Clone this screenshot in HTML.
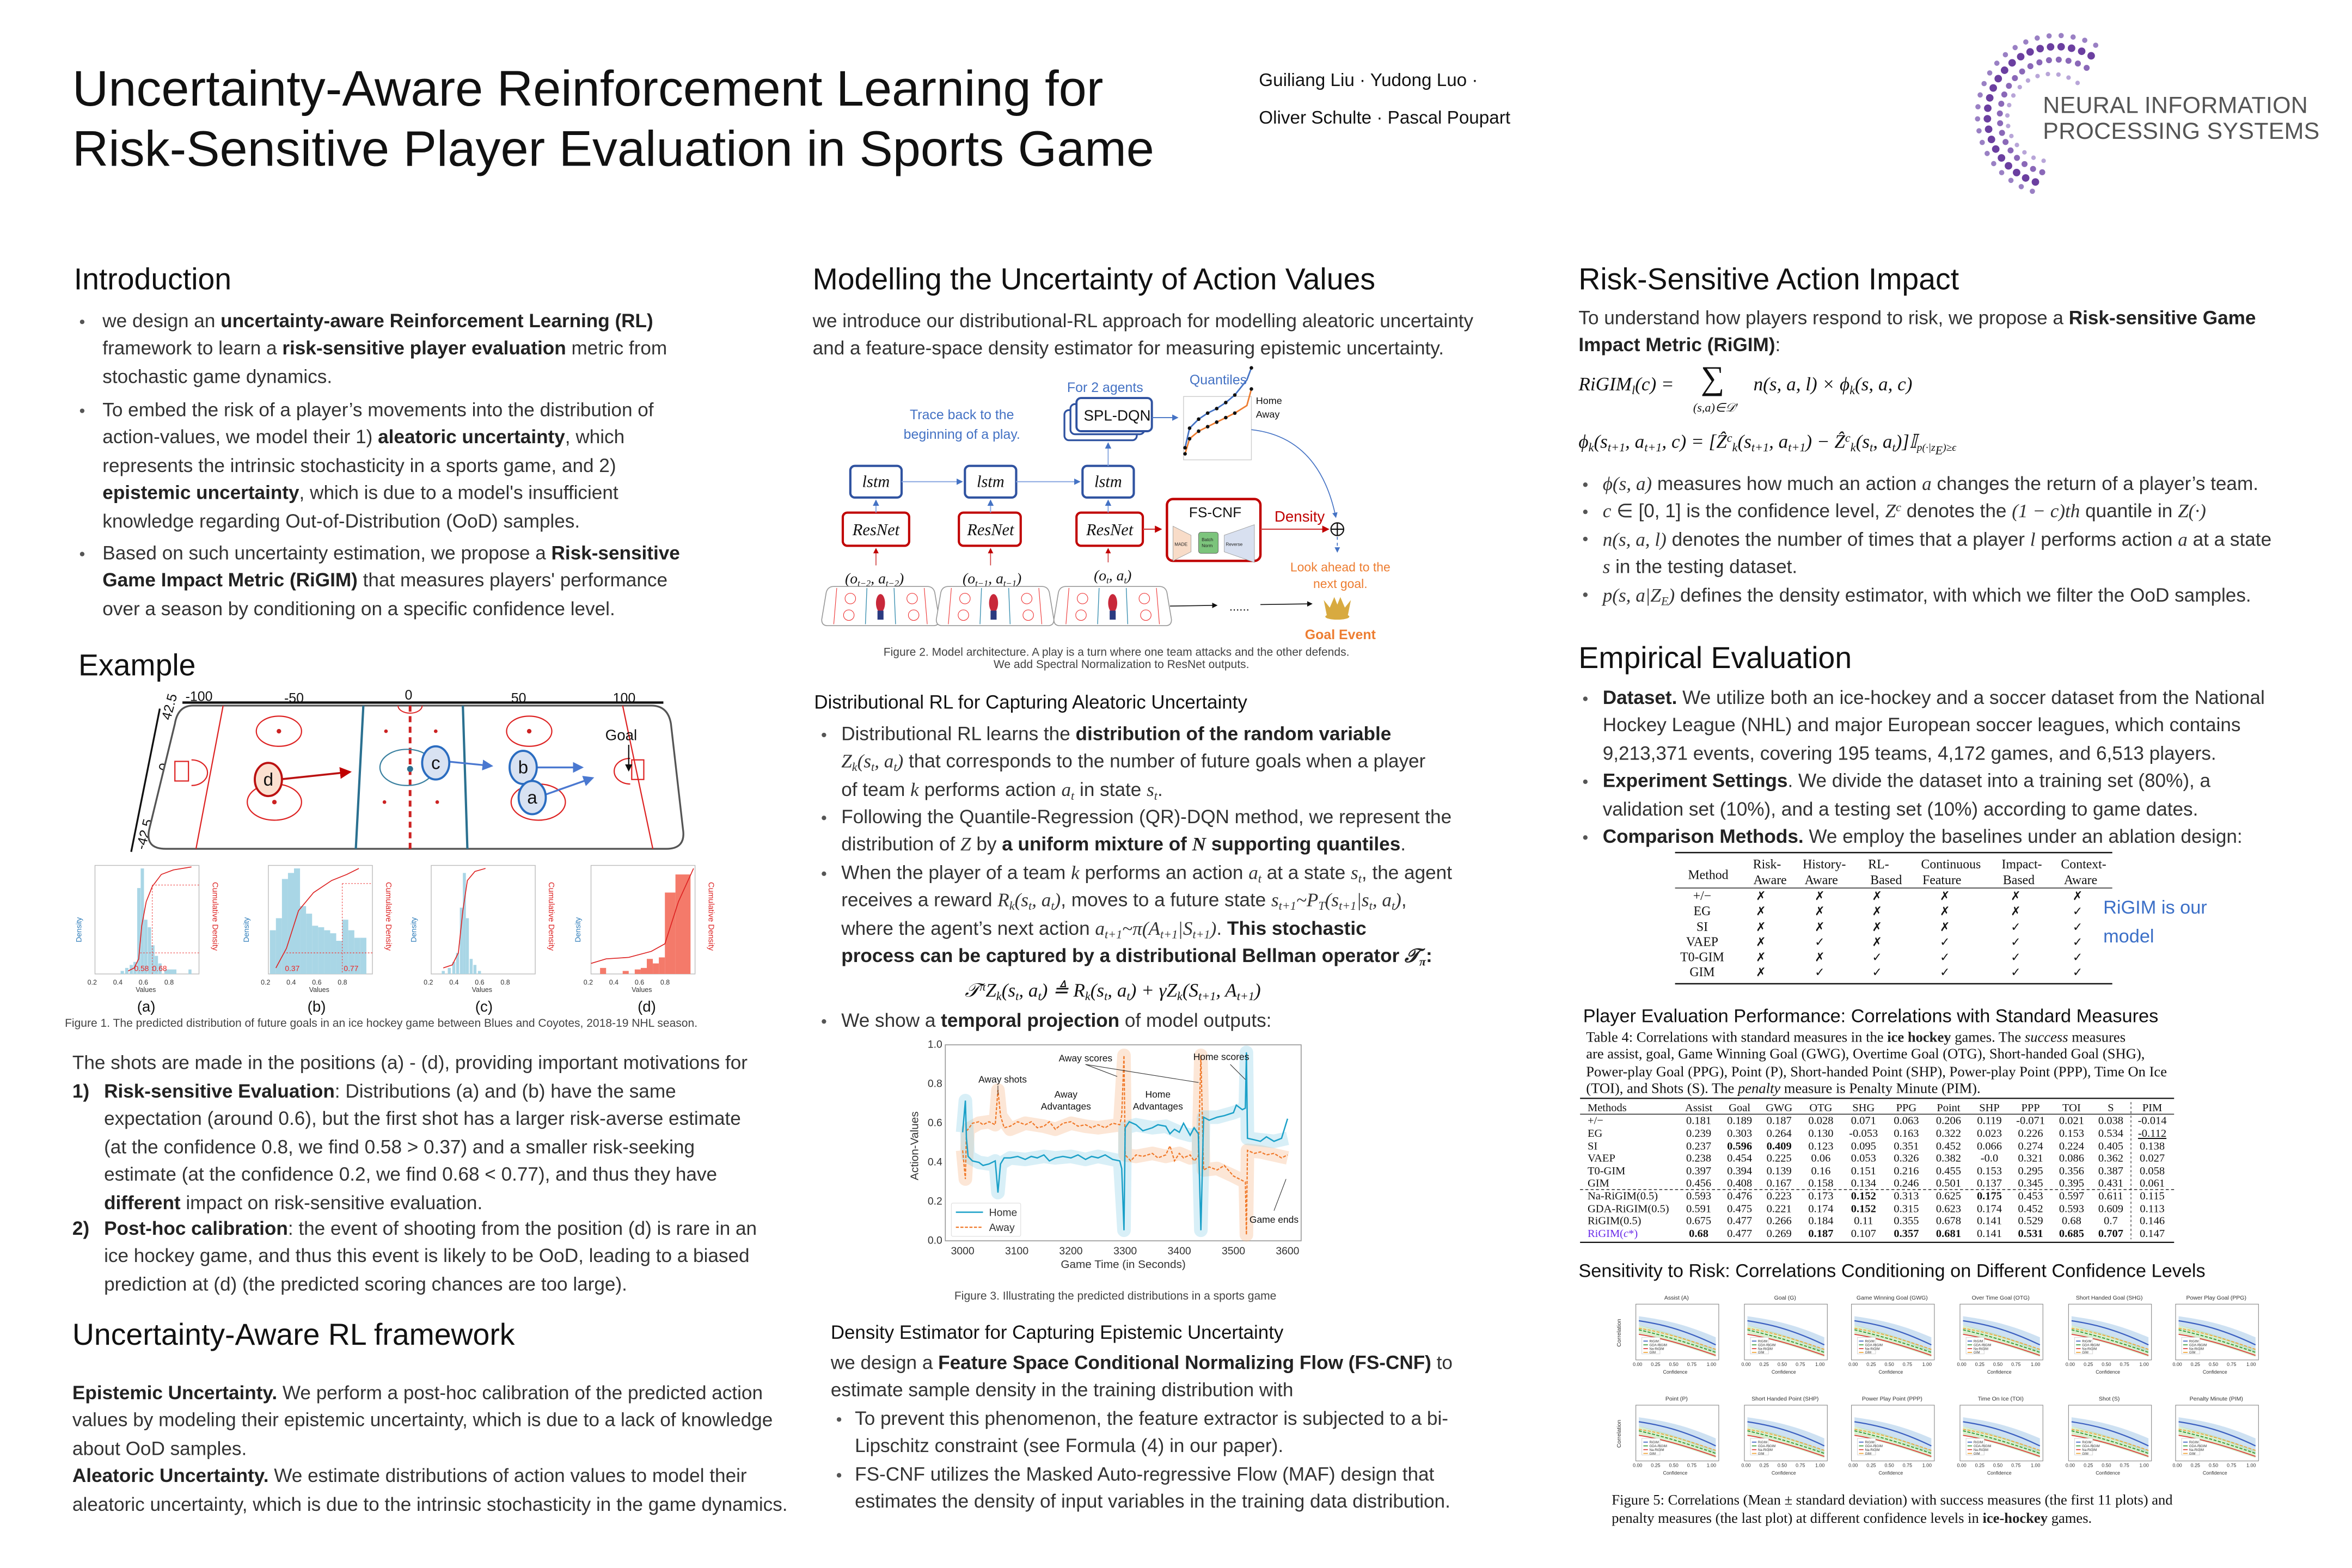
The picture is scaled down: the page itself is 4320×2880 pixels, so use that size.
<!DOCTYPE html>
<html><head><meta charset="utf-8">
<style>
html,body{margin:0;padding:0;background:#fff;}
body{width:4320px;height:2880px;overflow:hidden;position:relative;}
#p{position:absolute;left:0;top:0;width:1560px;height:1040px;transform:scale(2.76923);transform-origin:0 0;font-family:"Liberation Sans",sans-serif;color:#333;}
.t{position:absolute;white-space:nowrap;font-size:12.7px;line-height:18.45px;}
.h{position:absolute;white-space:nowrap;font-size:20px;line-height:24px;color:#111;}
.s{position:absolute;white-space:nowrap;font-size:12.6px;line-height:16px;color:#111;}
b{color:#222;}
sub,sup{font-size:8px;line-height:0;}
sub{vertical-align:-0.3em;}
sup{vertical-align:0.5em;}
.m{font-family:"Liberation Serif",serif;font-style:italic;}
.d{position:absolute;width:3px;height:3px;border-radius:50%;background:#555;}
svg{position:absolute;left:0;top:0;}
.cap{position:absolute;white-space:nowrap;font-size:7.6px;color:#444;}
</style></head><body><div id="p">

<div style="position:absolute;left:48px;top:40px;font-size:33.2px;line-height:40px;color:#111;white-space:nowrap;">Uncertainty-Aware Reinforcement Learning for<br>Risk-Sensitive Player Evaluation in Sports Game</div>
<div style="position:absolute;left:835px;top:41px;font-size:12px;line-height:24.5px;color:#111;white-space:nowrap;">Guiliang Liu · Yudong Luo ·<br>Oliver Schulte · Pascal Poupart</div>
<div style="position:absolute;left:1355px;top:62px;font-size:15.5px;line-height:17px;color:#555;white-space:nowrap;letter-spacing:0.1px;">NEURAL INFORMATION<br>PROCESSING SYSTEMS</div>

<div class="h" style="left:49px;top:174px;">Introduction</div>
<div class="d" style="left:53px;top:212px"></div>
<div class="t" style="left:68px;top:204px;">we design an <b>uncertainty-aware Reinforcement Learning (RL)</b><br>framework to learn a <b>risk-sensitive player evaluation</b> metric from<br>stochastic game dynamics.</div>
<div class="d" style="left:53px;top:271px"></div>
<div class="t" style="left:68px;top:263px;">To embed the risk of a player’s movements into the distribution of<br>action-values, we model their 1) <b>aleatoric uncertainty</b>, which<br>represents the intrinsic stochasticity in a sports game, and 2)<br><b>epistemic uncertainty</b>, which is due to a model's insufficient<br>knowledge regarding Out-of-Distribution (OoD) samples.</div>
<div class="d" style="left:53px;top:366px"></div>
<div class="t" style="left:68px;top:358px;">Based on such uncertainty estimation, we propose a <b>Risk-sensitive</b><br><b>Game Impact Metric (RiGIM)</b> that measures players' performance<br>over a season by conditioning on a specific confidence level.</div>

<div class="h" style="left:52px;top:430px;">Example</div>

<div class="cap" style="left:43px;top:674px;">Figure 1. The predicted distribution of future goals in an ice hockey game between Blues and Coyotes, 2018-19 NHL season.</div>

<div class="t" style="left:48px;top:696px;">The shots are made in the positions (a) - (d), providing important motivations for</div>
<div class="t" style="left:48px;top:715px;"><b>1)</b></div>
<div class="t" style="left:69px;top:715px;"><b>Risk-sensitive Evaluation</b>: Distributions (a) and (b) have the same<br>expectation (around 0.6), but the first shot has a larger risk-averse estimate<br>(at the confidence 0.8, we find 0.58 &gt; 0.37) and a smaller risk-seeking<br>estimate (at the confidence 0.2, we find 0.68 &lt; 0.77), and thus they have<br><b>different</b> impact on risk-sensitive evaluation.</div>
<div class="t" style="left:48px;top:806px;"><b>2)</b></div>
<div class="t" style="left:69px;top:806px;"><b>Post-hoc calibration</b>: the event of shooting from the position (d) is rare in an<br>ice hockey game, and thus this event is likely to be OoD, leading to a biased<br>prediction at (d) (the predicted scoring chances are too large).</div>

<div class="h" style="left:48px;top:874px;">Uncertainty-Aware RL framework</div>
<div class="t" style="left:48px;top:915px;"><b>Epistemic Uncertainty.</b> We perform a post-hoc calibration of the predicted action<br>values by modeling their epistemic uncertainty, which is due to a lack of knowledge<br>about OoD samples.<br><b>Aleatoric Uncertainty.</b> We estimate distributions of action values to model their<br>aleatoric uncertainty, which is due to the intrinsic stochasticity in the game dynamics.</div>

<div class="h" style="left:539px;top:174px;">Modelling the Uncertainty of Action Values</div>
<div class="t" style="left:539px;top:204px;">we introduce our distributional-RL approach for modelling aleatoric uncertainty<br>and a feature-space density estimator for measuring epistemic uncertainty.</div>
<div class="cap" style="left:586px;top:428px;">Figure 2. Model architecture. A play is a turn where one team attacks and the other defends.</div>
<div class="cap" style="left:659px;top:436px;">We add Spectral Normalization to ResNet outputs.</div>

<div class="s" style="left:540px;top:458px;">Distributional RL for Capturing Aleatoric Uncertainty</div>
<div class="d" style="left:545px;top:486px"></div>
<div class="t" style="left:558px;top:478px;">Distributional RL learns the <b>distribution of the random variable</b><br><span class="m">Z<sub>k</sub>(s<sub>t</sub>, a<sub>t</sub>)</span> that corresponds to the  number of future goals when a player<br>of team <span class="m">k</span> performs action <span class="m">a<sub>t</sub></span> in state <span class="m">s<sub>t</sub></span>.</div>
<div class="d" style="left:545px;top:541px"></div>
<div class="t" style="left:558px;top:533px;">Following the Quantile-Regression (QR)-DQN method, we represent the<br>distribution of <span class="m">Z</span> by <b>a uniform mixture of <span class="m">N</span> supporting quantiles</b>.</div>
<div class="d" style="left:545px;top:578px"></div>
<div class="t" style="left:558px;top:570px;">When the player of a team <span class="m">k</span> performs an action <span class="m">a<sub>t</sub></span> at a state <span class="m">s<sub>t</sub></span>, the agent<br>receives a reward <span class="m">R<sub>k</sub>(s<sub>t</sub>, a<sub>t</sub>)</span>, moves to a future state <span class="m">s<sub>t+1</sub>~P<sub>T</sub>(s<sub>t+1</sub>|s<sub>t</sub>, a<sub>t</sub>)</span>,<br>where the agent’s next action <span class="m">a<sub>t+1</sub>~π(A<sub>t+1</sub>|S<sub>t+1</sub>)</span>. <b>This stochastic</b><br><b>process can be captured by a distributional Bellman operator <span class="m">𝒯<sub>π</sub></span>:</b></div>
<div class="t m" style="left:640px;top:648px;color:#111;">𝒯<sup>π</sup>Z<sub>k</sub>(s<sub>t</sub>, a<sub>t</sub>) ≜ R<sub>k</sub>(s<sub>t</sub>, a<sub>t</sub>) + γZ<sub>k</sub>(S<sub>t+1</sub>, A<sub>t+1</sub>)</div>
<div class="d" style="left:545px;top:676px"></div>
<div class="t" style="left:558px;top:668px;">We show a <b>temporal projection</b> of model outputs:</div>
<div class="cap" style="left:633px;top:855px;">Figure 3. Illustrating the predicted distributions in a sports game</div>

<div class="s" style="left:551px;top:876px;">Density Estimator for Capturing Epistemic Uncertainty</div>
<div class="t" style="left:551px;top:895px;">we design a <b>Feature Space Conditional Normalizing Flow (FS-CNF)</b> to<br>estimate sample density in the training distribution with</div>
<div class="d" style="left:555px;top:940px"></div>
<div class="t" style="left:567px;top:932px;">To prevent this phenomenon, the feature extractor is subjected to a bi-<br>Lipschitz constraint (see Formula (4) in our paper).</div>
<div class="d" style="left:555px;top:977px"></div>
<div class="t" style="left:567px;top:969px;">FS-CNF utilizes the Masked Auto-regressive Flow (MAF) design that<br>estimates the density of input variables in the training data distribution.</div>

<div class="h" style="left:1047px;top:174px;">Risk-Sensitive Action Impact</div>
<div class="t" style="left:1047px;top:202px;">To understand how players respond to risk, we propose a <b>Risk-sensitive Game</b><br><b>Impact Metric (RiGIM)</b>:</div>
<div class="t m" style="left:1047px;top:246px;color:#111;">RiGIM<sub>l</sub>(c) = </div>
<div style="position:absolute;left:1128px;top:238px;font-size:22px;font-family:'Liberation Serif',serif;color:#111;">∑</div>
<div class="m" style="position:absolute;left:1123px;top:266px;font-size:8px;white-space:nowrap;color:#111;">(s,a)∈𝒟′</div>
<div class="t m" style="left:1163px;top:246px;color:#111;">n(s, a, l) × ϕ<sub>k</sub>(s, a, c)</div>
<div class="t m" style="left:1047px;top:284px;color:#111;">ϕ<sub>k</sub>(s<sub>t+1</sub>, a<sub>t+1</sub>, c) = [Ẑ<sup>c</sup><sub>k</sub>(s<sub>t+1</sub>, a<sub>t+1</sub>) − Ẑ<sup>c</sup><sub>k</sub>(s<sub>t</sub>, a<sub>t</sub>)]𝕀<sub style="font-size:7px">p(·|z<sub>E</sub>)≥ϵ</sub></div>
<div class="d" style="left:1050px;top:320px"></div>
<div class="d" style="left:1050px;top:338px"></div>
<div class="d" style="left:1050px;top:356px"></div>
<div class="d" style="left:1050px;top:393px"></div>
<div class="t" style="left:1063px;top:312px;"><span class="m">ϕ(s, a)</span> measures how much an action <span class="m">a</span> changes the  return of a player’s team.<br><span class="m">c</span> ∈ [0, 1] is the confidence level, <span class="m">Z<sup>c</sup></span> denotes the <span class="m">(1 − c)th</span> quantile in <span class="m">Z(·)</span><br><span class="m">n(s, a, l)</span> denotes the number of times that a player <span class="m">l</span> performs action <span class="m">a</span> at a state<br><span class="m">s</span> in the testing dataset.<br><span class="m">p(s, a|Z<sub>E</sub>)</span> defines the density estimator, with which we filter the OoD samples.</div>

<div class="h" style="left:1047px;top:425px;">Empirical Evaluation</div>
<div class="d" style="left:1050px;top:462px"></div>
<div class="d" style="left:1050px;top:517px"></div>
<div class="d" style="left:1050px;top:554px"></div>
<div class="t" style="left:1063px;top:454px;"><b>Dataset.</b> We utilize both an ice-hockey and a soccer dataset from the National<br>Hockey League (NHL) and major European soccer leagues, which contains<br>9,213,371 events, covering 195 teams, 4,172 games, and 6,513 players.<br><b>Experiment Settings</b>. We divide the dataset into a training set (80%), a<br>validation set (10%), and a testing set (10%) according to game dates.<br><b>Comparison Methods.</b> We employ the baselines under an ablation design:</div>

<div style="position:absolute;left:1395px;top:593px;font-size:12.4px;line-height:18.6px;color:#3b6fc7;white-space:nowrap;">RiGIM is our<br>model</div>

<div class="s" style="left:1050px;top:666px;font-size:12.4px;">Player Evaluation Performance: Correlations with Standard Measures</div>
<div style="position:absolute;left:1052px;top:683px;font-family:'Liberation Serif',serif;font-size:9.6px;line-height:11.3px;color:#111;white-space:nowrap;">Table 4:  Correlations with standard measures in the <b>ice hockey</b> games.  The <i>success</i> measures<br>are assist, goal, Game Winning Goal (GWG), Overtime Goal (OTG), Short-handed Goal (SHG),<br>Power-play Goal (PPG), Point (P), Short-handed Point (SHP), Power-play Point (PPP), Time On Ice<br>(TOI), and Shots (S). The <i>penalty</i> measure is Penalty Minute (PIM).</div>

<div class="s" style="left:1047px;top:835px;font-size:12.4px;">Sensitivity to Risk: Correlations Conditioning on Different Confidence Levels</div>
<div style="position:absolute;left:1069px;top:990px;font-family:'Liberation Serif',serif;font-size:9.6px;line-height:12px;color:#111;white-space:nowrap;">Figure 5: Correlations (Mean ± standard deviation) with success measures (the first 11 plots) and<br>penalty measures (the last plot) at different confidence levels in <b>ice-hockey</b> games.</div>

<svg width="1560" height="1040" viewBox="0 0 1560 1040" xmlns="http://www.w3.org/2000/svg" font-family="Liberation Sans, sans-serif">
<defs>
<marker id="ab" markerWidth="6" markerHeight="6" refX="5" refY="3" orient="auto"><path d="M0,0 L6,3 L0,6 z" fill="#4472c4"/></marker>
<marker id="ar" markerWidth="6" markerHeight="6" refX="5" refY="3" orient="auto"><path d="M0,0 L6,3 L0,6 z" fill="#c00000"/></marker>
<marker id="ak" markerWidth="6" markerHeight="6" refX="5" refY="3" orient="auto"><path d="M0,0 L6,3 L0,6 z" fill="#111"/></marker>
<marker id="ab2" markerWidth="6" markerHeight="6" refX="5" refY="3" orient="auto"><path d="M0,0 L6,3 L0,6 z" fill="#4a78d0"/></marker>
<marker id="ad" markerWidth="6" markerHeight="6" refX="5" refY="3" orient="auto"><path d="M0,0 L6,3 L0,6 z" fill="#c00000"/></marker>
<g id="rinkmini">
<path d="M4,0 H66 Q70,0 71,4 L74,22 Q74,26 70,26 H0 Q-4,26 -4,22 L-1,4 Q0,0 4,0Z" fill="#fff" stroke="#999" stroke-width="0.6"/>
<line x1="6" y1="1" x2="4" y2="25" stroke="#e33" stroke-width="0.4"/><line x1="64" y1="1" x2="66" y2="25" stroke="#e33" stroke-width="0.4"/>
<line x1="26" y1="1" x2="25" y2="25" stroke="#3a8fb0" stroke-width="0.5"/><line x1="44" y1="1" x2="45" y2="25" stroke="#3a8fb0" stroke-width="0.5"/>
<circle cx="15" cy="8" r="3.5" fill="none" stroke="#e33" stroke-width="0.4"/><circle cx="14" cy="19" r="3.5" fill="none" stroke="#e33" stroke-width="0.4"/>
<circle cx="56" cy="8" r="3.5" fill="none" stroke="#e33" stroke-width="0.4"/><circle cx="57" cy="19" r="3.5" fill="none" stroke="#e33" stroke-width="0.4"/>
</g>
<g id="fp">
<rect x="0" y="0" width="55" height="37" fill="#fff" stroke="#888" stroke-width="0.4"/>
<path d="M2,8 C15,10 30,12 53,22 L53,32 C30,22 15,18 2,14Z" fill="#9ec3e6" opacity="0.5"/>
<path d="M2,11 C15,13 30,16 53,27" fill="none" stroke="#3b5fc0" stroke-width="0.8"/>
<path d="M2,14 C15,17 30,21 53,30 L53,35 C30,27 15,23 2,20Z" fill="#b6e0a0" opacity="0.5"/>
<path d="M2,17 C15,20 30,24 53,32" fill="none" stroke="#3a9a3a" stroke-width="0.7" stroke-dasharray="2 1"/>
<path d="M2,20 C15,22 30,26 53,34" fill="none" stroke="#d33" stroke-width="0.6"/>
<path d="M2,16 C15,18 30,22 53,30" fill="none" stroke="#f0a030" stroke-width="0.6" stroke-dasharray="2 1"/>
<rect x="4" y="22" width="12" height="11" fill="#fff" stroke="#ccc" stroke-width="0.3"/>
<line x1="5" y1="24.5" x2="8" y2="24.5" stroke="#3b5fc0" stroke-width="0.6"/><line x1="5" y1="27" x2="8" y2="27" stroke="#3a9a3a" stroke-width="0.6"/><line x1="5" y1="29.5" x2="8" y2="29.5" stroke="#d33" stroke-width="0.6"/><line x1="5" y1="32" x2="8" y2="32" stroke="#f0a030" stroke-width="0.6"/>
<g font-size="2.2" fill="#333"><text x="9" y="25.3">RiGIM</text><text x="9" y="27.8">GDA-RiGIM</text><text x="9" y="30.3">Na-RiGIM</text><text x="9" y="32.8">GIM</text></g>
<g font-size="3.2" fill="#333"><text x="-2" y="41">0.00</text><text x="10" y="41">0.25</text><text x="22" y="41">0.50</text><text x="34" y="41">0.75</text><text x="47" y="41">1.00</text><text x="18" y="46">Confidence</text></g>
</g>
</defs>

<g fill="none" stroke-linecap="round">
<path d="M1384,45 A38,38 0 1 0 1358,115" stroke="#8a68b8" stroke-width="4" stroke-dasharray="0 6.5"/>
<path d="M1387,37 A46,46 0 1 0 1355,122" stroke="#6b3fa0" stroke-width="5" stroke-dasharray="0 7"/>
<path d="M1390,30 A53,53 0 1 0 1352,128" stroke="#9a80c4" stroke-width="3.5" stroke-dasharray="0 8"/>
<path d="M1378,55 A29,29 0 1 0 1362,107" stroke="#b8a5d8" stroke-width="3" stroke-dasharray="0 7"/>
</g>

<g>
<line x1="121" y1="466" x2="440" y2="466" stroke="#111" stroke-width="1.6"/>
<line x1="106" y1="470" x2="87" y2="565" stroke="#111" stroke-width="1.2"/>
<g font-size="9" fill="#111" text-anchor="middle"><text x="132" y="465">-100</text><text x="195" y="466">-50</text><text x="271" y="464">0</text><text x="344" y="466">50</text><text x="414" y="466">100</text></g>
<text x="113" y="478" font-size="9" transform="rotate(-75 113 478)" fill="#111">42.5</text>
<text x="111" y="512" font-size="9" transform="rotate(-75 111 512)" fill="#111">0</text>
<text x="96" y="564" font-size="9" transform="rotate(-75 96 564)" fill="#111">-42.5</text>
<path d="M128,468 H432 Q443,468 445,480 L453,550 Q455,563 442,563 H110 Q96,563 99,550 L116,480 Q118,468 128,468Z" fill="#fff" stroke="#555" stroke-width="1.2"/>
<line x1="148" y1="468" x2="130" y2="563" stroke="#d22" stroke-width="0.8"/>
<line x1="413" y1="468" x2="433" y2="563" stroke="#d22" stroke-width="0.8"/>
<line x1="241" y1="468" x2="236" y2="563" stroke="#2a7090" stroke-width="1.5"/>
<line x1="307" y1="468" x2="310" y2="563" stroke="#2a7090" stroke-width="1.5"/>
<line x1="272" y1="468" x2="272" y2="563" stroke="#c22" stroke-width="1.8" stroke-dasharray="4 3"/>
<path d="M264,468 A8,5 0 0 0 280,468" fill="none" stroke="#d22" stroke-width="0.7"/>
<g fill="none" stroke="#d22" stroke-width="0.8">
<ellipse cx="185" cy="485" rx="15" ry="10"/><ellipse cx="182" cy="532" rx="18" ry="12"/>
<ellipse cx="351" cy="485" rx="15" ry="10"/><ellipse cx="357" cy="532" rx="18" ry="12"/>
<path d="M127,504 A10,8 0 0 1 127,521"/><rect x="116" y="505" width="9" height="13"/>
<path d="M418,503 A10,8 0 0 0 418,520"/><rect x="419" y="504" width="8" height="13"/>
</g>
<g fill="#c22"><circle cx="185" cy="485" r="1.5"/><circle cx="182" cy="532" r="1.5"/><circle cx="351" cy="485" r="1.5"/><circle cx="357" cy="532" r="1.5"/><circle cx="256" cy="485" r="1.2"/><circle cx="289" cy="485" r="1.2"/><circle cx="255" cy="532" r="1.2"/><circle cx="290" cy="532" r="1.2"/></g>
<ellipse cx="270" cy="509" rx="18" ry="12" fill="none" stroke="#3a80a0" stroke-width="0.8"/><circle cx="272" cy="510" r="2" fill="#2a7090"/>
<line x1="185" y1="517" x2="232" y2="512" stroke="#b11" stroke-width="1.3" marker-end="url(#ad)"/>
<ellipse cx="178" cy="517" rx="9" ry="11" fill="#fbe0d0" stroke="#b11" stroke-width="1.4"/><text x="178" y="521" font-size="12" text-anchor="middle" fill="#111">d</text>
<line x1="296" y1="505" x2="326" y2="508" stroke="#4a78d0" stroke-width="1.2" marker-end="url(#ab2)"/>
<ellipse cx="289" cy="506" rx="9" ry="11" fill="#d8e2f2" stroke="#2a6cc0" stroke-width="1.4"/><text x="289" y="510" font-size="12" text-anchor="middle" fill="#111">c</text>
<line x1="354" y1="509" x2="386" y2="509" stroke="#4a78d0" stroke-width="1.2" marker-end="url(#ab2)"/>
<ellipse cx="347" cy="509" rx="9" ry="11" fill="#d8e2f2" stroke="#2a6cc0" stroke-width="1.4"/><text x="347" y="513" font-size="12" text-anchor="middle" fill="#111">b</text>
<line x1="359" y1="528" x2="393" y2="516" stroke="#4a78d0" stroke-width="1.2" marker-end="url(#ab2)"/>
<ellipse cx="353" cy="529" rx="9" ry="11" fill="#d8e2f2" stroke="#2a6cc0" stroke-width="1.4"/><text x="353" y="533" font-size="12" text-anchor="middle" fill="#111">a</text>
<text x="412" y="491" font-size="10" text-anchor="middle" fill="#111">Goal</text>
<line x1="417" y1="494" x2="417" y2="511" stroke="#111" stroke-width="0.8" marker-end="url(#ak)"/>
</g>

<g font-size="5" >
<g transform="translate(63,574)">
<rect x="0" y="0" width="69" height="72" fill="#fff" stroke="#bbb" stroke-width="0.5"/>
<g fill="#a9d6e6"><rect x="17" y="70" width="2.2" height="2"/><rect x="20" y="68" width="2.2" height="4"/><rect x="23" y="66" width="2.2" height="6"/><rect x="25.5" y="64" width="2.2" height="8"/><rect x="28" y="15" width="2.2" height="57"/><rect x="30.3" y="2" width="2.2" height="70"/><rect x="32.6" y="36" width="2.2" height="36"/><rect x="35" y="41" width="2.2" height="31"/><rect x="37.3" y="53" width="2.2" height="19"/><rect x="39.6" y="60" width="2.2" height="12"/><rect x="42" y="65" width="2.2" height="7"/><rect x="46" y="69" width="8" height="3"/><rect x="62" y="69" width="2" height="3"/></g>
<path d="M22,70 L26,68 L29,62 L31,40 L34,24 L38,14 L44,6 L52,3 L64,1" fill="none" stroke="#d22" stroke-width="0.6"/>
<line x1="30" y1="58" x2="69" y2="58" stroke="#e44" stroke-width="0.4" stroke-dasharray="1 1"/><line x1="38" y1="13" x2="69" y2="13" stroke="#e44" stroke-width="0.4" stroke-dasharray="1 1"/>
<line x1="38" y1="13" x2="38" y2="72" stroke="#e44" stroke-width="0.4" stroke-dasharray="1 1"/>
<text x="26" y="70" fill="#e22" font-size="5">0.58</text><text x="38" y="70" fill="#e22" font-size="5">0.68</text>
</g>
<g transform="translate(178,574)">
<rect x="0" y="0" width="69" height="72" fill="#fff" stroke="#bbb" stroke-width="0.5"/>
<g fill="#a9d6e6"><rect x="1" y="43" width="4" height="29"/><rect x="5" y="35" width="4" height="37"/><rect x="9" y="9" width="4" height="63"/><rect x="13" y="5" width="4" height="67"/><rect x="17" y="2" width="4" height="70"/><rect x="21" y="27" width="4" height="45"/><rect x="25" y="32" width="4" height="40"/><rect x="29" y="40" width="4" height="32"/><rect x="33" y="41" width="4" height="31"/><rect x="37" y="43" width="4" height="29"/><rect x="41" y="45" width="4" height="27"/><rect x="45" y="50" width="4" height="22"/><rect x="49" y="36" width="4" height="36"/><rect x="53" y="43" width="4" height="29"/><rect x="57" y="48" width="4" height="24"/><rect x="61" y="48" width="4" height="24"/></g>
<path d="M5,68 L12,55 L20,30 L30,18 L42,10 L52,6 L60,2" fill="none" stroke="#d22" stroke-width="0.6"/>
<line x1="10" y1="58" x2="69" y2="58" stroke="#e44" stroke-width="0.5" stroke-dasharray="1 1"/><line x1="49" y1="12" x2="69" y2="12" stroke="#e44" stroke-width="0.4" stroke-dasharray="1 1"/><line x1="49" y1="12" x2="49" y2="72" stroke="#e44" stroke-width="0.4" stroke-dasharray="1 1"/>
<text x="11" y="70" fill="#e22">0.37</text><text x="50" y="70" fill="#e22">0.77</text>
</g>
<g transform="translate(286,574)">
<rect x="0" y="0" width="69" height="72" fill="#fff" stroke="#bbb" stroke-width="0.5"/>
<g fill="#a9d6e6"><rect x="7" y="70" width="2" height="2"/><rect x="11" y="68" width="2" height="4"/><rect x="14" y="64" width="2" height="8"/><rect x="16.5" y="58" width="2" height="14"/><rect x="19" y="28" width="2" height="44"/><rect x="21" y="5" width="2" height="67"/><rect x="23" y="35" width="2" height="37"/><rect x="25.5" y="62" width="2" height="10"/><rect x="28" y="66" width="2" height="6"/><rect x="31" y="70" width="2" height="2"/></g>
<path d="M8,68 L14,66 L18,58 L21,30 L24,10 L29,4 L36,2" fill="none" stroke="#d22" stroke-width="0.6"/>
</g>
<g transform="translate(392,574)">
<rect x="0" y="0" width="69" height="72" fill="#fff" stroke="#bbb" stroke-width="0.5"/>
<g fill="#f47a6a"><rect x="6" y="68" width="4" height="4"/><rect x="21" y="70" width="4" height="2"/><rect x="29" y="69" width="4" height="3"/><rect x="33" y="68" width="4" height="4"/><rect x="37" y="62" width="4" height="10"/><rect x="41" y="65" width="4" height="7"/><rect x="45" y="61" width="4" height="11"/><rect x="49" y="18" width="7" height="54"/><rect x="56" y="6" width="10" height="66"/></g>
<path d="M0,65 L10,62 L25,61 L40,57 L49,52 L58,24 L68,2" fill="none" stroke="#d22" stroke-width="0.6"/>
</g>
<g font-size="5" fill="#2a7ab8">
<text transform="rotate(-90 54 625)" x="54" y="625">Density</text>
<text transform="rotate(-90 165 625)" x="165" y="625">Density</text>
<text transform="rotate(-90 276 625)" x="276" y="625">Density</text>
<text transform="rotate(-90 385 625)" x="385" y="625">Density</text>
</g>
<g font-size="5.3" fill="#d22">
<text transform="rotate(90 141 585)" x="141" y="585">Cumulative Density</text>
<text transform="rotate(90 256 585)" x="256" y="585">Cumulative Density</text>
<text transform="rotate(90 364 585)" x="364" y="585">Cumulative Density</text>
<text transform="rotate(90 470 585)" x="470" y="585">Cumulative Density</text>
</g>
<g font-size="4.5" fill="#333">
<text x="58" y="653">0.2</text><text x="75" y="653">0.4</text><text x="92" y="653">0.6</text><text x="109" y="653">0.8</text><text x="90" y="658">Values</text>
<text x="173" y="653">0.2</text><text x="190" y="653">0.4</text><text x="207" y="653">0.6</text><text x="224" y="653">0.8</text><text x="205" y="658">Values</text>
<text x="281" y="653">0.2</text><text x="298" y="653">0.4</text><text x="315" y="653">0.6</text><text x="332" y="653">0.8</text><text x="313" y="658">Values</text>
<text x="387" y="653">0.2</text><text x="404" y="653">0.4</text><text x="421" y="653">0.6</text><text x="438" y="653">0.8</text><text x="419" y="658">Values</text>
</g>
<g font-size="10" fill="#111" text-anchor="middle"><text x="97" y="671">(a)</text><text x="210" y="671">(b)</text><text x="321" y="671">(c)</text><text x="429" y="671">(d)</text></g>
</g>

<g>
<text x="733" y="260" font-size="9" fill="#4472c4" text-anchor="middle">For 2 agents</text>
<text x="808" y="255" font-size="9" fill="#4472c4" text-anchor="middle">Quantiles</text>
<text x="638" y="278" font-size="9" fill="#4472c4" text-anchor="middle">Trace back to the</text>
<text x="638" y="291" font-size="9" fill="#4472c4" text-anchor="middle">beginning of a play.</text>
<rect x="706" y="272" width="48" height="20" rx="3" fill="#fff" stroke="#2f52a0" stroke-width="1.2"/>
<rect x="710" y="268" width="49" height="20" rx="3" fill="#fff" stroke="#2f52a0" stroke-width="1.2"/>
<rect x="714" y="264" width="50" height="22" rx="3" fill="#fff" stroke="#2f52a0" stroke-width="1.4"/>
<text x="741" y="279" font-size="10" fill="#111" text-anchor="middle">SPL-DQN</text>
<line x1="764" y1="277" x2="781" y2="277" stroke="#4472c4" stroke-width="0.7" marker-end="url(#ab)"/>
<rect x="785" y="263" width="45" height="42" fill="#fff" stroke="#ccc" stroke-width="0.5"/>
<polyline points="786,297 789,284 795,278 801,274 807,271 813,267 819,262 827,252 830,244" fill="none" stroke="#4472c4" stroke-width="1"/>
<polyline points="786,301 789,291 795,286 801,283 807,280 813,277 819,274 827,269 830,258" fill="none" stroke="#ed7d31" stroke-width="1"/>
<g fill="#111"><circle cx="786" cy="297" r="1.2"/><circle cx="789" cy="284" r="1.2"/><circle cx="795" cy="278" r="1.2"/><circle cx="801" cy="274" r="1.2"/><circle cx="807" cy="271" r="1.2"/><circle cx="813" cy="267" r="1.2"/><circle cx="819" cy="262" r="1.2"/><circle cx="830" cy="244" r="1.2"/>
<circle cx="786" cy="301" r="1.2"/><circle cx="789" cy="291" r="1.2"/><circle cx="795" cy="286" r="1.2"/><circle cx="801" cy="283" r="1.2"/><circle cx="807" cy="280" r="1.2"/><circle cx="813" cy="277" r="1.2"/><circle cx="819" cy="274" r="1.2"/><circle cx="830" cy="258" r="1.2"/></g>
<text x="833" y="268" font-size="6.5" fill="#111">Home</text><text x="833" y="277" font-size="6.5" fill="#111">Away</text>
<path d="M830,285 Q875,290 886,343" fill="none" stroke="#4472c4" stroke-width="0.6" marker-end="url(#ab)"/>
<g fill="#fff" stroke="#2f52a0" stroke-width="1.5">
<rect x="564" y="309" width="34" height="21" rx="3"/><rect x="640" y="309" width="34" height="21" rx="3"/><rect x="718" y="309" width="34" height="21" rx="3"/>
</g>
<g fill="#111" font-size="11" font-family="Liberation Serif, serif" font-style="italic" text-anchor="middle">
<text x="581" y="323">lstm</text><text x="657" y="323">lstm</text><text x="735" y="323">lstm</text>
</g>
<line x1="598" y1="319.5" x2="638" y2="319.5" stroke="#8aa8e0" stroke-width="0.7" marker-end="url(#ab)"/>
<line x1="674" y1="319.5" x2="716" y2="319.5" stroke="#8aa8e0" stroke-width="0.7" marker-end="url(#ab)"/>
<line x1="735" y1="309" x2="735" y2="294" stroke="#8aa8e0" stroke-width="0.7" marker-end="url(#ab)"/>
<g fill="#fff" stroke="#c00000" stroke-width="1.5">
<rect x="559" y="340" width="44" height="22" rx="3"/><rect x="636" y="340" width="41" height="22" rx="3"/><rect x="714" y="340" width="44" height="22" rx="3"/>
</g>
<g fill="#111" font-size="11" font-family="Liberation Serif, serif" font-style="italic" text-anchor="middle">
<text x="581" y="355">ResNet</text><text x="657" y="355">ResNet</text><text x="736" y="355">ResNet</text>
</g>
<g stroke="#8aa8e0" stroke-width="0.7"><line x1="581" y1="340" x2="581" y2="332" marker-end="url(#ab)"/><line x1="657" y1="340" x2="657" y2="332" marker-end="url(#ab)"/><line x1="735" y1="340" x2="735" y2="332" marker-end="url(#ab)"/></g>
<g stroke="#d04040" stroke-width="0.6"><line x1="581" y1="375" x2="581" y2="364" marker-end="url(#ar)"/><line x1="657" y1="375" x2="657" y2="364" marker-end="url(#ar)"/><line x1="735" y1="373" x2="735" y2="364" marker-end="url(#ar)"/></g>
<line x1="758" y1="351" x2="770" y2="351" stroke="#d04040" stroke-width="0.8" marker-end="url(#ar)"/>
<rect x="774" y="331" width="62" height="41" rx="4" fill="#fff" stroke="#c00000" stroke-width="1.6"/>
<text x="806" y="343" font-size="9.5" fill="#111" text-anchor="middle">FS-CNF</text>
<polygon points="778,349 790,355 790,366 778,372" fill="#f8dcc8" stroke="#999" stroke-width="0.3"/>
<rect x="795" y="353" width="13" height="14" rx="1.5" fill="#7cc47c" stroke="#555" stroke-width="0.3"/>
<polygon points="812,355 832,348 832,373 812,366" fill="#d8e0f0" stroke="#999" stroke-width="0.3"/>
<g font-size="3" fill="#222"><text x="779" y="362">MADE</text><text x="797" y="359">Batch</text><text x="797" y="363">Norm</text><text x="813" y="362">Reverse</text></g>
<line x1="836" y1="351" x2="881" y2="351" stroke="#d04040" stroke-width="0.8" marker-end="url(#ar)"/>
<text x="862" y="346" font-size="10" fill="#c00000" text-anchor="middle">Density</text>
<circle cx="887" cy="351" r="4.2" fill="#fff" stroke="#111" stroke-width="0.8"/><line x1="883" y1="351" x2="891" y2="351" stroke="#111" stroke-width="0.8"/><line x1="887" y1="347" x2="887" y2="355" stroke="#111" stroke-width="0.8"/>
<line x1="887" y1="356" x2="887" y2="366" stroke="#4472c4" stroke-width="0.6" stroke-dasharray="2 2" marker-end="url(#ab)"/>
<text x="889" y="379" font-size="8.3" fill="#ed7d31" text-anchor="middle">Look ahead to the</text>
<text x="889" y="390" font-size="8.3" fill="#ed7d31" text-anchor="middle">next goal.</text>
<polygon points="878,398 882,403 885,396 887,401 889,396 892,403 896,398 894,408 880,408" fill="#d8aa40"/>
<ellipse cx="887" cy="409" rx="8" ry="2" fill="#d8aa40"/>
<text x="889" y="424" font-size="9" fill="#ed7d31" font-weight="bold" text-anchor="middle">Goal Event</text>
<g font-size="10" font-family="Liberation Serif, serif" font-style="italic" fill="#111" text-anchor="middle">
<text x="580" y="387">(o<tspan font-size="6" dy="2">t−2</tspan><tspan dy="-2">, a</tspan><tspan font-size="6" dy="2">t−2</tspan><tspan dy="-2">)</tspan></text>
<text x="658" y="387">(o<tspan font-size="6" dy="2">t−1</tspan><tspan dy="-2">, a</tspan><tspan font-size="6" dy="2">t−1</tspan><tspan dy="-2">)</tspan></text>
<text x="738" y="385">(o<tspan font-size="6" dy="2">t</tspan><tspan dy="-2">, a</tspan><tspan font-size="6" dy="2">t</tspan><tspan dy="-2">)</tspan></text>
</g>
<use href="#rinkmini" transform="translate(549,389)"/>
<use href="#rinkmini" transform="translate(625,389)"/>
<use href="#rinkmini" transform="translate(703,389)"/>
<g fill="#c8283a"><ellipse cx="584" cy="400" rx="3" ry="6"/><ellipse cx="659" cy="400" rx="3" ry="6"/><ellipse cx="738" cy="400" rx="3" ry="6"/></g>
<g fill="#2a3a80"><rect x="582" y="405" width="4" height="6"/><rect x="657" y="405" width="4" height="6"/><rect x="736" y="405" width="4" height="6"/></g>
<line x1="776" y1="402" x2="807" y2="401.5" stroke="#111" stroke-width="0.6" marker-end="url(#ak)"/>
<text x="822" y="405" font-size="8" fill="#111" text-anchor="middle">......</text>
<line x1="836" y1="401" x2="870" y2="400.5" stroke="#111" stroke-width="0.6" marker-end="url(#ak)"/>
</g>

<g>
<rect x="627" y="693" width="236" height="130" fill="#fff" stroke="#999" stroke-width="0.6"/>
<g font-size="7" fill="#333" text-anchor="end"><text x="625" y="825">0.0</text><text x="625" y="799">0.2</text><text x="625" y="773">0.4</text><text x="625" y="747">0.6</text><text x="625" y="721">0.8</text><text x="625" y="695">1.0</text></g>
<g font-size="7" fill="#333" text-anchor="middle"><text x="638.5" y="832">3000</text><text x="674.4" y="832">3100</text><text x="710.3" y="832">3200</text><text x="746.3" y="832">3300</text><text x="782.2" y="832">3400</text><text x="818.1" y="832">3500</text><text x="854" y="832">3600</text></g>
<text x="745" y="841" font-size="7.5" fill="#333" text-anchor="middle">Game Time (in Seconds)</text>
<text x="609" y="760" font-size="7.5" fill="#333" text-anchor="middle" transform="rotate(-90 609 760)">Action-Values</text>
<polyline points="638.5,763 640.3,782 642.1,749 649.3,745 656,744 660.1,746 661.9,723 663.6,740 670,749 680,745 692.4,747 700,749 710.3,745 720,747 728.3,748 742.7,746 745.5,700 746.3,766 753.5,767 764.3,765 773.2,767 782.2,765 789.4,768 794.8,767 796.5,700 798.3,776 807.3,775 818.1,780 826,784 826.7,819 827.4,763 836,764 845,766 854,768" fill="none" stroke="#f7b88a" stroke-width="9" stroke-opacity="0.35" stroke-linejoin="round"/>
<polyline points="638.5,751 640.3,730 642.1,767 649.3,771 656,772 660.1,770 661.9,791 663.6,772 670,768 680,769 692.4,767 700,768 710.3,767 720,769 728.3,767 742.7,770 745.5,816 746.3,748 753.5,746 764.3,748 773.2,747 782.2,751 789.4,753 794.8,752 796.5,816 798.3,741 807.3,741 818.1,738 826,735 826.7,698 827.4,755 836,756 845,757 854,755" fill="none" stroke="#8fd0e8" stroke-width="9" stroke-opacity="0.35" stroke-linejoin="round"/>
<polyline points="638.5,763 640.3,782 641,750 642.1,749 645,745 649.3,744 652,746 656,744 660.1,746 661.9,723 663.6,740 666,748 670,747 675,744 680,746 684,744 688,748 692.4,747 696,744 700,749 705,745 710.3,744 715,747 720,746 724,748 728.3,746 733,748 738,745 742.7,746 744,740 745.5,700 746.3,766 750,770 753.5,766 758,767 764.3,765 768,768 773.2,766 776,760 779,770 782.2,765 785,768 789.4,766 792,770 794.8,767 796.5,700 798.3,776 802,774 807.3,776 812,773 818.1,780 822,782 826,784 826.7,819 827.4,763 832,765 836,764 840,766 845,765 850,768 854,766" fill="none" stroke="#f07828" stroke-width="0.8" stroke-dasharray="2 1"/>
<polyline points="638.5,751 640.3,730 641,755 642.1,767 645,770 649.3,771 652,773 656,772 660.1,770 661.9,791 663.6,772 666,768 670,768 675,767 680,769 684,767 688,768 692.4,766 696,770 700,768 705,767 710.3,768 715,766 720,769 724,767 728.3,768 733,766 738,769 742.7,770 744,775 745.5,816 746.3,748 749,744 753.5,746 758,750 764.3,748 768,746 773.2,747 776,752 779,749 782.2,751 785,745 789.4,753 792,748 794.8,752 796.5,816 798.3,741 802,743 807.3,741 812,740 818.1,738 820,733 824,736 826,735 826.7,698 827.4,755 832,756 836,757 840,754 845,757 850,755 854,742" fill="none" stroke="#1aa0c8" stroke-width="0.9"/>
<g font-size="6.3" fill="#111" text-anchor="middle">
<text x="665" y="718">Away shots</text><text x="720" y="704">Away scores</text><text x="810" y="703">Home scores</text>
<text x="707" y="728">Away</text><text x="707" y="736">Advantages</text><text x="768" y="728">Home</text><text x="768" y="736">Advantages</text>
<text x="845" y="811">Game ends</text>
</g>
<g stroke="#333" stroke-width="0.4"><line x1="720" y1="706" x2="741" y2="714"/><line x1="720" y1="706" x2="795" y2="718"/><line x1="816" y1="706" x2="826" y2="716"/><line x1="845" y1="803" x2="853" y2="782"/><line x1="661.9" y1="720" x2="661.9" y2="726"/></g>
<rect x="631" y="798" width="46" height="22" rx="1" fill="#fff" stroke="#ddd" stroke-width="0.4"/>
<line x1="634" y1="804" x2="652" y2="804" stroke="#1aa0c8" stroke-width="0.9"/><line x1="634" y1="814" x2="652" y2="814" stroke="#f07828" stroke-width="0.8" stroke-dasharray="2 1"/>
<text x="656" y="806.5" font-size="7" fill="#333">Home</text><text x="656" y="816.5" font-size="7" fill="#333">Away</text>
</g>

<g font-family="Liberation Serif, serif" fill="#111" font-size="8.6" text-anchor="middle">
<line x1="1111" y1="565.5" x2="1401" y2="565.5" stroke="#111" stroke-width="0.9"/>
<line x1="1111" y1="589" x2="1401" y2="589" stroke="#111" stroke-width="0.5"/>
<line x1="1111" y1="652.5" x2="1401" y2="652.5" stroke="#111" stroke-width="0.9"/>
<text x="1133" y="583">Method</text>
<text x="1172" y="576">Risk-</text><text x="1174" y="586.5">Aware</text>
<text x="1210" y="576">History-</text><text x="1208" y="586.5">Aware</text>
<text x="1246" y="576">RL-</text><text x="1251" y="586.5">Based</text>
<text x="1294" y="576">Continuous</text><text x="1288" y="586.5">Feature</text>
<text x="1341" y="576">Impact-</text><text x="1339" y="586.5">Based</text>
<text x="1382" y="576">Context-</text><text x="1380" y="586.5">Aware</text>
<g font-size="8.6">
<text x="1129" y="597">+/−</text><text x="1129" y="607">EG</text><text x="1129" y="617.5">SI</text><text x="1129" y="627.5">VAEP</text><text x="1129" y="637.5">T0-GIM</text><text x="1129" y="647.5">GIM</text>
</g>
<g font-family="DejaVu Sans, sans-serif" font-size="8">
<text x="1168" y="597">✗</text><text x="1207" y="597">✗</text><text x="1245" y="597">✗</text><text x="1290" y="597">✗</text><text x="1337" y="597">✗</text><text x="1378" y="597">✗</text>
<text x="1168" y="607">✗</text><text x="1207" y="607">✗</text><text x="1245" y="607">✗</text><text x="1290" y="607">✗</text><text x="1337" y="607">✗</text><text x="1378" y="607">✓</text>
<text x="1168" y="617.5">✗</text><text x="1207" y="617.5">✗</text><text x="1245" y="617.5">✗</text><text x="1290" y="617.5">✗</text><text x="1337" y="617.5">✓</text><text x="1378" y="617.5">✓</text>
<text x="1168" y="627.5">✗</text><text x="1207" y="627.5">✓</text><text x="1245" y="627.5">✗</text><text x="1290" y="627.5">✓</text><text x="1337" y="627.5">✓</text><text x="1378" y="627.5">✓</text>
<text x="1168" y="637.5">✗</text><text x="1207" y="637.5">✗</text><text x="1245" y="637.5">✓</text><text x="1290" y="637.5">✓</text><text x="1337" y="637.5">✓</text><text x="1378" y="637.5">✓</text>
<text x="1168" y="647.5">✗</text><text x="1207" y="647.5">✓</text><text x="1245" y="647.5">✓</text><text x="1290" y="647.5">✓</text><text x="1337" y="647.5">✓</text><text x="1378" y="647.5">✓</text>
</g>
</g>

<g font-family="Liberation Serif, serif" fill="#111" font-size="7.4" text-anchor="middle">
<line x1="1048" y1="728.5" x2="1442" y2="728.5" stroke="#111" stroke-width="0.8"/>
<line x1="1048" y1="739" x2="1442" y2="739" stroke="#111" stroke-width="0.5"/>
<line x1="1048" y1="789" x2="1442" y2="789" stroke="#111" stroke-width="0.5" stroke-dasharray="2 1.5"/>
<line x1="1048" y1="824" x2="1442" y2="824" stroke="#111" stroke-width="0.8"/>
<line x1="1413.4" y1="731" x2="1413.4" y2="822" stroke="#111" stroke-width="0.4" stroke-dasharray="1.5 1.5"/>
<g text-anchor="start"><text x="1053" y="737">Methods</text><text x="1053" y="745.5">+/−</text><text x="1053" y="754">EG</text><text x="1053" y="762.5">SI</text><text x="1053" y="770.5">VAEP</text><text x="1053" y="779">T0-GIM</text><text x="1053" y="787">GIM</text><text x="1053" y="795.5">Na-RiGIM(0.5)</text><text x="1053" y="804">GDA-RiGIM(0.5)</text><text x="1053" y="812">RiGIM(0.5)</text><text x="1053" y="820.5" fill="#6a2be8">RiGIM(<tspan font-style="italic">c</tspan>*)</text></g>
<text x="1126.7" y="737">Assist</text><text x="1153.8" y="737">Goal</text><text x="1180" y="737">GWG</text><text x="1207.7" y="737">OTG</text><text x="1236" y="737">SHG</text><text x="1264.4" y="737">PPG</text><text x="1292.4" y="737">Point</text><text x="1319.5" y="737">SHP</text><text x="1346.8" y="737">PPP</text><text x="1374" y="737">TOI</text><text x="1400" y="737">S</text><text x="1427.5" y="737">PIM</text>
<g>
<text x="1126.7" y="745.5">0.181</text><text x="1153.8" y="745.5">0.189</text><text x="1180" y="745.5">0.187</text><text x="1207.7" y="745.5">0.028</text><text x="1236" y="745.5">0.071</text><text x="1264.4" y="745.5">0.063</text><text x="1292.4" y="745.5">0.206</text><text x="1319.5" y="745.5">0.119</text><text x="1346.8" y="745.5">-0.071</text><text x="1374" y="745.5">0.021</text><text x="1400" y="745.5">0.038</text><text x="1427.5" y="745.5">-0.014</text>
<text x="1126.7" y="754">0.239</text><text x="1153.8" y="754">0.303</text><text x="1180" y="754">0.264</text><text x="1207.7" y="754">0.130</text><text x="1236" y="754">-0.053</text><text x="1264.4" y="754">0.163</text><text x="1292.4" y="754">0.322</text><text x="1319.5" y="754">0.023</text><text x="1346.8" y="754">0.226</text><text x="1374" y="754">0.153</text><text x="1400" y="754">0.534</text><text x="1427.5" y="754" text-decoration="underline">-0.112</text>
<text x="1126.7" y="762.5">0.237</text><text x="1153.8" y="762.5" font-weight="bold">0.596</text><text x="1180" y="762.5" font-weight="bold">0.409</text><text x="1207.7" y="762.5">0.123</text><text x="1236" y="762.5">0.095</text><text x="1264.4" y="762.5">0.351</text><text x="1292.4" y="762.5">0.452</text><text x="1319.5" y="762.5">0.066</text><text x="1346.8" y="762.5">0.274</text><text x="1374" y="762.5">0.224</text><text x="1400" y="762.5">0.405</text><text x="1427.5" y="762.5">0.138</text>
<text x="1126.7" y="770.5">0.238</text><text x="1153.8" y="770.5">0.454</text><text x="1180" y="770.5">0.225</text><text x="1207.7" y="770.5">0.06</text><text x="1236" y="770.5">0.053</text><text x="1264.4" y="770.5">0.326</text><text x="1292.4" y="770.5">0.382</text><text x="1319.5" y="770.5">-0.0</text><text x="1346.8" y="770.5">0.321</text><text x="1374" y="770.5">0.086</text><text x="1400" y="770.5">0.362</text><text x="1427.5" y="770.5">0.027</text>
<text x="1126.7" y="779">0.397</text><text x="1153.8" y="779">0.394</text><text x="1180" y="779">0.139</text><text x="1207.7" y="779">0.16</text><text x="1236" y="779">0.151</text><text x="1264.4" y="779">0.216</text><text x="1292.4" y="779">0.455</text><text x="1319.5" y="779">0.153</text><text x="1346.8" y="779">0.295</text><text x="1374" y="779">0.356</text><text x="1400" y="779">0.387</text><text x="1427.5" y="779">0.058</text>
<text x="1126.7" y="787">0.456</text><text x="1153.8" y="787">0.408</text><text x="1180" y="787">0.167</text><text x="1207.7" y="787">0.158</text><text x="1236" y="787">0.134</text><text x="1264.4" y="787">0.246</text><text x="1292.4" y="787">0.501</text><text x="1319.5" y="787">0.137</text><text x="1346.8" y="787">0.345</text><text x="1374" y="787">0.395</text><text x="1400" y="787">0.431</text><text x="1427.5" y="787">0.061</text>
<text x="1126.7" y="795.5">0.593</text><text x="1153.8" y="795.5">0.476</text><text x="1180" y="795.5">0.223</text><text x="1207.7" y="795.5">0.173</text><text x="1236" y="795.5" font-weight="bold">0.152</text><text x="1264.4" y="795.5">0.313</text><text x="1292.4" y="795.5">0.625</text><text x="1319.5" y="795.5" font-weight="bold">0.175</text><text x="1346.8" y="795.5">0.453</text><text x="1374" y="795.5">0.597</text><text x="1400" y="795.5">0.611</text><text x="1427.5" y="795.5">0.115</text>
<text x="1126.7" y="804">0.591</text><text x="1153.8" y="804">0.475</text><text x="1180" y="804">0.221</text><text x="1207.7" y="804">0.174</text><text x="1236" y="804" font-weight="bold">0.152</text><text x="1264.4" y="804">0.315</text><text x="1292.4" y="804">0.623</text><text x="1319.5" y="804">0.174</text><text x="1346.8" y="804">0.452</text><text x="1374" y="804">0.593</text><text x="1400" y="804">0.609</text><text x="1427.5" y="804">0.113</text>
<text x="1126.7" y="812">0.675</text><text x="1153.8" y="812">0.477</text><text x="1180" y="812">0.266</text><text x="1207.7" y="812">0.184</text><text x="1236" y="812">0.11</text><text x="1264.4" y="812">0.355</text><text x="1292.4" y="812">0.678</text><text x="1319.5" y="812">0.141</text><text x="1346.8" y="812">0.529</text><text x="1374" y="812">0.68</text><text x="1400" y="812">0.7</text><text x="1427.5" y="812">0.146</text>
<g><text x="1126.7" y="820.5" font-weight="bold">0.68</text><text x="1153.8" y="820.5">0.477</text><text x="1180" y="820.5">0.269</text><text x="1207.7" y="820.5" font-weight="bold">0.187</text><text x="1236" y="820.5">0.107</text><text x="1264.4" y="820.5" font-weight="bold">0.357</text><text x="1292.4" y="820.5" font-weight="bold">0.681</text><text x="1319.5" y="820.5">0.141</text><text x="1346.8" y="820.5" font-weight="bold">0.531</text><text x="1374" y="820.5" font-weight="bold">0.685</text><text x="1400" y="820.5" font-weight="bold">0.707</text><text x="1427.5" y="820.5">0.147</text></g>
</g>
</g>

<g>
<use href="#fp" transform="translate(1085,865)"/><use href="#fp" transform="translate(1157,865)"/><use href="#fp" transform="translate(1228,865)"/><use href="#fp" transform="translate(1300,865)"/><use href="#fp" transform="translate(1372,865)"/><use href="#fp" transform="translate(1443,865)"/>
<use href="#fp" transform="translate(1085,932)"/><use href="#fp" transform="translate(1157,932)"/><use href="#fp" transform="translate(1228,932)"/><use href="#fp" transform="translate(1300,932)"/><use href="#fp" transform="translate(1372,932)"/><use href="#fp" transform="translate(1443,932)"/>
<g font-size="3.8" fill="#333" text-anchor="middle">
<text x="1112" y="862">Assist (A)</text><text x="1184" y="862">Goal (G)</text><text x="1255" y="862">Game Winning Goal (GWG)</text><text x="1327" y="862">Over Time Goal (OTG)</text><text x="1399" y="862">Short Handed Goal (SHG)</text><text x="1470" y="862">Power Play Goal (PPG)</text>
<text x="1112" y="929">Point (P)</text><text x="1184" y="929">Short Handed Point (SHP)</text><text x="1255" y="929">Power Play Point (PPP)</text><text x="1327" y="929">Time On Ice (TOI)</text><text x="1399" y="929">Shot (S)</text><text x="1470" y="929">Penalty Minute (PIM)</text>
</g>
<g font-size="3.8" fill="#333" text-anchor="middle">
<text transform="rotate(-90 1075 884)" x="1075" y="884">Correlation</text>
<text transform="rotate(-90 1075 951)" x="1075" y="951">Correlation</text>
</g>
</g>
</svg>
</div></body></html>
